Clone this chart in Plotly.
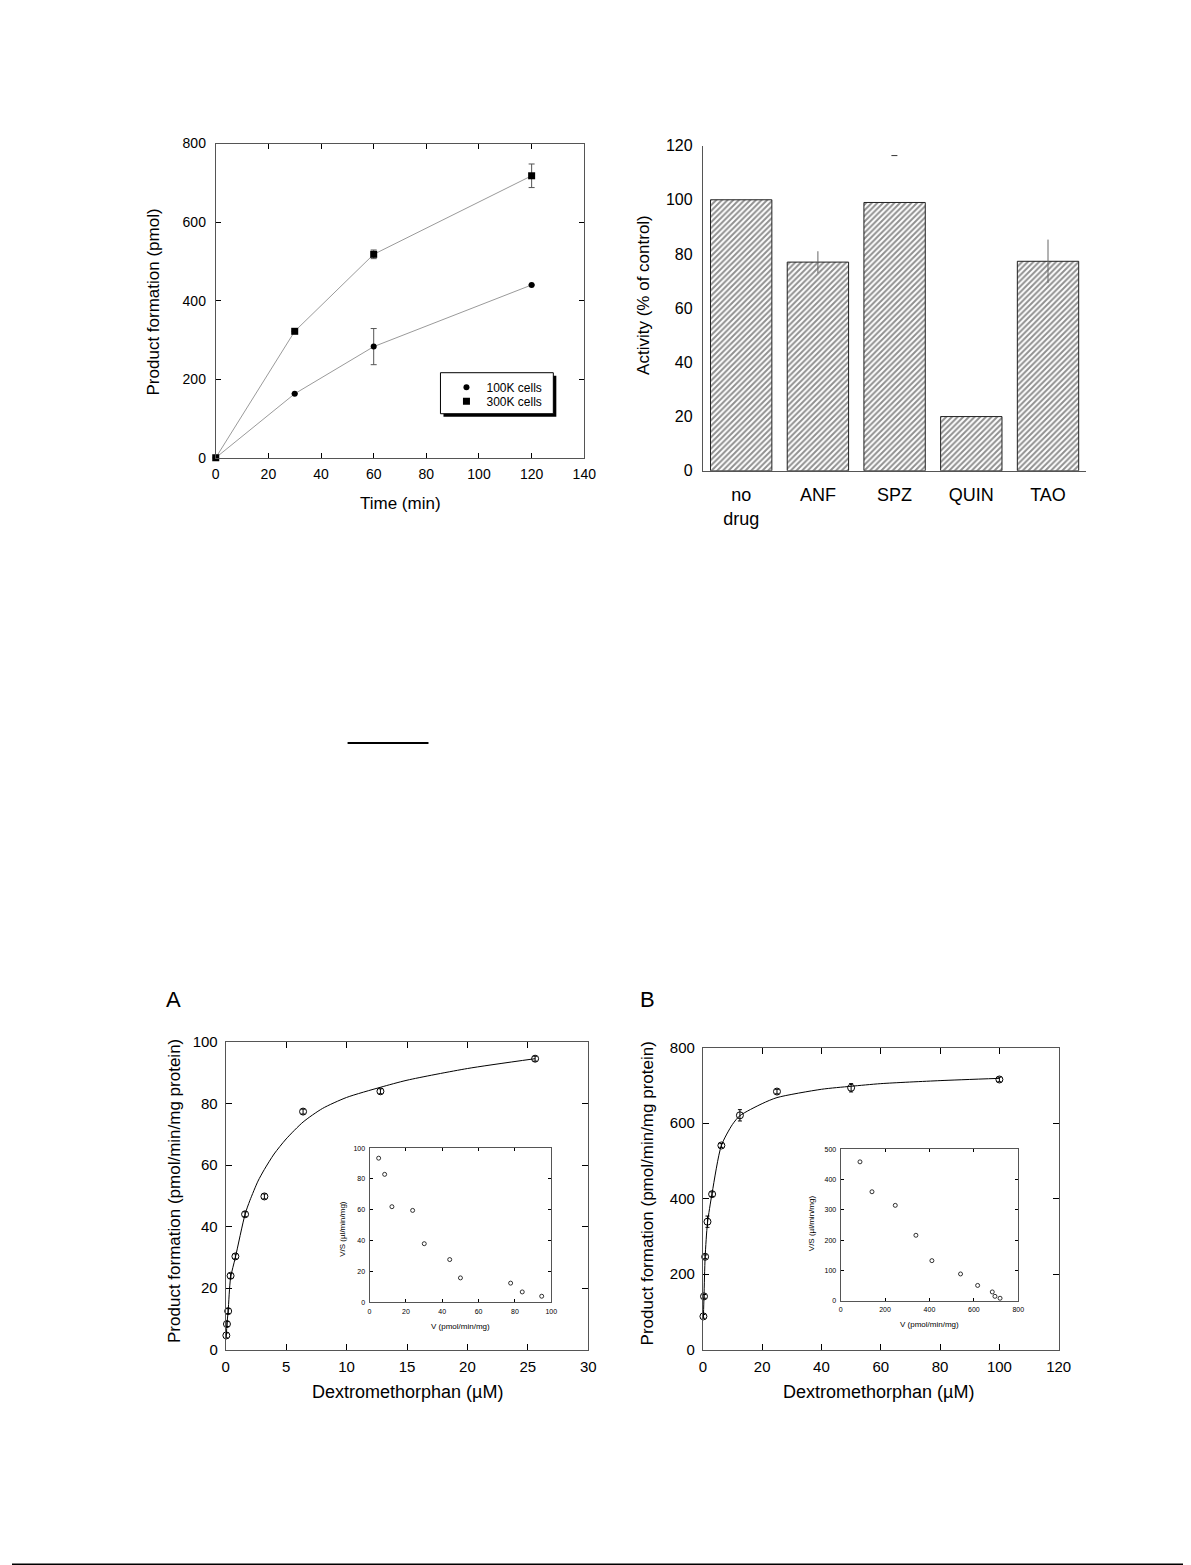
import plotly.graph_objects as go

# Page-pixel -> figure-pixel calibration (measured from the rendered page):
# page = SCALE * fig + offset
SCALE_X, OFF_X = 0.987, 11.0
SCALE_Y, OFF_Y = 0.988, 16.5
W, H = 1195, 1575
FONT = "Liberation Sans, Arial, Helvetica, sans-serif"

# ---------------- data ----------------
time_min = [0, 30, 60, 120]
cells100k = [0, 163, 283, 440]
cells100k_err = [0, 0, 46, 0]
cells300k = [0, 322, 518, 718]
cells300k_err = [0, 0, 11, 30]

drugs = ["no<br>drug", "ANF", "SPZ", "QUIN", "TAO"]
activity = [100, 77, 99, 20, 77.3]
activity_err = [0, 4, 0, 0, 8]

dxmA_S = [0.05, 0.1, 0.2, 0.4, 0.8, 1.6, 3.2, 6.4, 12.8, 25.6]
dxmA_V = [4.6, 8.3, 12.5, 24, 30.3, 44, 49.8, 77.4, 84, 94.6]
dxmA_err = [0.8, 0.8, 0.8, 0.8, 0.8, 0.8, 0.8, 0.8, 0.8, 0.8]
fitA_x = [0.05, 0.1, 0.2, 0.4, 0.8, 1.6, 2.0, 2.67, 3.2, 4, 5, 6.4, 8, 10, 12.8, 15, 20, 25.6]
fitA_y = [4.6, 8.2, 12.5, 23.3, 30.0, 44, 48.5, 54.8, 58.6, 63.6, 68.5, 74.0, 78.4, 82.0, 85.3, 87.6, 91.4, 94.6]
insetA_V = [5, 8.3, 12.3, 23.7, 30.1, 44.1, 50, 77.6, 84, 94.7]
insetA_VS = [93.5, 83, 62, 59.6, 38, 27.7, 15.8, 12.4, 6.7, 3.9]

dxmB_S = [0.195, 0.39, 0.78, 1.56, 3.125, 6.25, 12.5, 25, 50, 100]
dxmB_V = [88, 141, 246, 339, 412, 541, 621, 684, 694, 716]
dxmB_err = [5, 5, 5, 15, 6, 5, 15, 6, 11, 6]
fitB_x = [0.195, 0.39, 0.78, 1.56, 3.125, 6.25, 10, 12.5, 20, 25, 40, 50, 60, 80, 100]
fitB_y = [88, 141, 246, 335, 415, 541, 597, 620, 652, 668, 690, 698, 705, 713, 719]
insetB_V = [87, 141, 246, 339, 411, 540, 617, 683, 695, 718]
insetB_VS = [459, 360, 315, 216, 132, 88, 50, 28.5, 14, 7.6]


def fx(px):
    return ((px - OFF_X) / SCALE_X) / W


def fy(py):
    return 1 - ((py - OFF_Y) / SCALE_Y) / H


fig = go.Figure()

# ---------- top-left: time course ----------
for yv in (cells100k, cells300k):
    fig.add_trace(go.Scatter(x=time_min, y=yv, mode="lines", showlegend=False,
                             line=dict(color="#9a9a9a", width=1), xaxis="x", yaxis="y"))
fig.add_trace(go.Scatter(
    x=time_min, y=cells100k, name="100K cells", mode="markers", legend="legend",
    marker=dict(symbol="circle", size=6, color="black"),
    error_y=dict(type="data", array=cells100k_err, color="#555555", thickness=1, width=3),
    cliponaxis=False, xaxis="x", yaxis="y"))
fig.add_trace(go.Scatter(
    x=time_min, y=cells300k, name="300K cells", mode="markers", legend="legend2",
    marker=dict(symbol="square", size=7, color="black"),
    error_y=dict(type="data", array=cells300k_err, color="#555555", thickness=1, width=3),
    cliponaxis=False, xaxis="x", yaxis="y"))

# ---------- top-right: bars ----------
fig.add_trace(go.Bar(
    x=drugs, y=activity, showlegend=False,
    marker=dict(color="white", line=dict(color="#222222", width=1),
                pattern=dict(shape="/", fgcolor="#222222", bgcolor="white",
                             size=4, solidity=0.5)),
    error_y=dict(type="data", array=activity_err, color="#666666", thickness=1, width=0),
    xaxis="x2", yaxis="y2"))

# ---------- bottom A ----------
fig.add_trace(go.Scatter(x=fitA_x, y=fitA_y, mode="lines", showlegend=False,
                         line=dict(color="black", width=1, shape="spline", smoothing=0.7),
                         xaxis="x3", yaxis="y3"))
fig.add_trace(go.Scatter(x=dxmA_S, y=dxmA_V, mode="markers", showlegend=False,
                         marker=dict(symbol="circle-open", size=7, color="black", line=dict(width=1)),
                         error_y=dict(type="data", array=dxmA_err, color="black", thickness=1, width=2),
                         cliponaxis=False, xaxis="x3", yaxis="y3"))
fig.add_trace(go.Scatter(x=insetA_V, y=insetA_VS, mode="markers", showlegend=False,
                         marker=dict(symbol="circle-open", size=4, color="black", line=dict(width=0.8)),
                         cliponaxis=False, xaxis="x4", yaxis="y4"))

# ---------- bottom B ----------
fig.add_trace(go.Scatter(x=fitB_x, y=fitB_y, mode="lines", showlegend=False,
                         line=dict(color="black", width=1, shape="spline", smoothing=0.7),
                         xaxis="x5", yaxis="y5"))
fig.add_trace(go.Scatter(x=dxmB_S, y=dxmB_V, mode="markers", showlegend=False,
                         marker=dict(symbol="circle-open", size=7, color="black", line=dict(width=1)),
                         error_y=dict(type="data", array=dxmB_err, color="black", thickness=1, width=2),
                         cliponaxis=False, xaxis="x5", yaxis="y5"))
fig.add_trace(go.Scatter(x=insetB_V, y=insetB_VS, mode="markers", showlegend=False,
                         marker=dict(symbol="circle-open", size=4, color="black", line=dict(width=0.8)),
                         cliponaxis=False, xaxis="x6", yaxis="y6"))


def frame_axis(domain, rng, dtick, anchor, fs=14, standoff=6, ticklen=5):
    return dict(domain=domain, range=rng, dtick=dtick, tick0=0, anchor=anchor,
                showgrid=False, zeroline=False, showline=True, linecolor="#555555",
                linewidth=1, mirror="ticks", ticks="inside", ticklen=ticklen,
                tickcolor="black", tickwidth=1, ticklabelstandoff=standoff,
                tickfont=dict(family=FONT, size=fs, color="black"))


layout_axes = {}
# top-left
layout_axes["xaxis"] = frame_axis([fx(215), fx(584)], [0, 140], 20, "y", 14, 3)
layout_axes["yaxis"] = frame_axis([fy(457), fy(143)], [0, 800], 200, "x", 14, 6)
# bar chart
layout_axes["xaxis2"] = dict(domain=[fx(702.7), fx(1086.7)], range=[-0.5, 4.5], anchor="y2",
                             type="category", showgrid=False, zeroline=False, showline=True,
                             linecolor="#555555", linewidth=1, ticks="", mirror=False,
                             ticklabelstandoff=8,
                             tickfont=dict(family=FONT, size=18, color="black"))
layout_axes["yaxis2"] = dict(domain=[fy(470), fy(145)], range=[0, 120], dtick=20, anchor="x2",
                             showgrid=False, zeroline=False, showline=True, linecolor="#555555",
                             linewidth=1, ticks="", ticklabelstandoff=6,
                             tickfont=dict(family=FONT, size=16, color="black"))
layout_axes["xaxis7"] = dict(domain=[fx(702.7), fx(1086.7)], range=[-0.5, 4.5], overlaying="x2",
                             anchor="y2", side="top", showgrid=False, zeroline=False, showline=False,
                             tickvals=[0.5, 1.5, 2.5, 3.5], ticks="inside", ticklen=7,
                             tickcolor="#333333", showticklabels=False)
layout_axes["yaxis7"] = dict(domain=[fy(470), fy(145)], range=[0, 120], overlaying="y2",
                             anchor="x2", side="right", showgrid=False, zeroline=False,
                             showline=False, tickvals=[20, 40, 60, 80, 100], ticks="inside",
                             ticklen=6, tickcolor="#555555", showticklabels=False)
# A
layout_axes["xaxis3"] = frame_axis([fx(225), fx(588)], [0, 30], 5, "y3", 15, 3, 6)
layout_axes["yaxis3"] = frame_axis([fy(1348.3), fy(1041)], [0, 100], 20, "x3", 15, 4, 6)
layout_axes["xaxis4"] = frame_axis([fx(369), fx(551)], [0, 100], 20, "y4", 7, 2, 3)
layout_axes["yaxis4"] = frame_axis([fy(1301), fy(1147)], [0, 100], 20, "x4", 7, 2, 3)
# B
layout_axes["xaxis5"] = frame_axis([fx(702.7), fx(1059)], [0, 120], 20, "y5", 15, 3, 6)
layout_axes["yaxis5"] = frame_axis([fy(1348.3), fy(1046.7)], [0, 800], 200, "x5", 15, 4, 6)
layout_axes["xaxis6"] = frame_axis([fx(840.7), fx(1018.5)], [0, 800], 200, "y6", 7, 2, 3)
layout_axes["yaxis6"] = frame_axis([fy(1299.3), fy(1148.3)], [0, 500], 100, "x6", 7, 2, 3)


def ann(text, px, py, size, angle=0, xanchor="center", yanchor="middle"):
    return dict(text=text, x=fx(px), y=fy(py), xref="paper", yref="paper", showarrow=False,
                textangle=angle, xanchor=xanchor, yanchor=yanchor,
                font=dict(family=FONT, size=size, color="black"))


annotations = [
    ann("Product formation (pmol)", 153, 301, 17, -90),
    ann("Time (min)", 400, 503, 17),
    ann("Activity (% of control)", 643, 294, 17, -90),
    ann("A", 173, 998, 22),
    ann("B", 647, 998, 22),
    ann("Product formation (pmol/min/mg protein)", 173, 1190, 17, -90),
    ann("Dextromethorphan (\u00b5M)", 407, 1391, 18),
    ann("Product formation (pmol/min/mg protein)", 647, 1192, 17, -90),
    ann("Dextromethorphan (\u00b5M)", 879, 1391, 18),
    ann("V/S (\u00b5l/min/mg)", 342, 1228, 8, -90),
    ann("V (pmol/min/mg)", 460, 1325, 8),
    ann("V/S (\u00b5l/min/mg)", 811, 1222, 8, -90),
    ann("V (pmol/min/mg)", 930, 1323, 8),
]

shapes = [
    # legend shadow and box
    dict(type="rect", xref="paper", yref="paper", x0=fx(443), x1=fx(556), y0=fy(416), y1=fy(375),
         fillcolor="black", line=dict(width=0), layer="above"),
    dict(type="rect", xref="paper", yref="paper", x0=fx(440), x1=fx(553), y0=fy(413), y1=fy(372),
         fillcolor="white", line=dict(color="black", width=1), layer="above"),
    # small dash at the top of the bar panel
    dict(type="line", xref="paper", yref="paper", x0=fx(891.5), x1=fx(897.5), y0=fy(155), y1=fy(155),
         line=dict(color="#333333", width=1)),
    # horizontal rule in the middle
    dict(type="line", xref="paper", yref="paper", x0=fx(347), x1=fx(428), y0=fy(742), y1=fy(742),
         line=dict(color="black", width=2)),
    # bottom rule
    dict(type="line", xref="paper", yref="paper", x0=0, x1=1, y0=fy(1563), y1=fy(1563),
         line=dict(color="black", width=2)),
]

leg_common = dict(xanchor="left", yanchor="top", bgcolor="rgba(0,0,0,0)", borderwidth=0,
                  font=dict(family=FONT, size=12, color="black"), itemwidth=30)

fig.update_layout(
    width=W, height=H, margin=dict(l=0, r=0, t=0, b=0),
    paper_bgcolor="white", plot_bgcolor="white",
    bargap=0.2,
    font=dict(family=FONT, color="black"),
    legend=dict(x=fx(446), y=fy(372), **leg_common),
    legend2=dict(x=fx(446), y=fy(386), **leg_common),
    annotations=annotations, shapes=shapes,
    **layout_axes,
)

fig.write_html("out.html")
